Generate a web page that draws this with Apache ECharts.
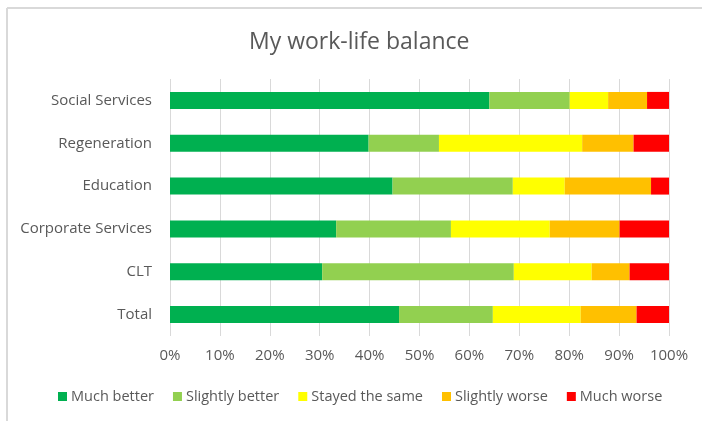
<!DOCTYPE html>
<html>
<head>
<meta charset="utf-8">
<script src="https://cdn.jsdelivr.net/npm/echarts@6/dist/echarts.min.js"></script>
<style>
  html, body { margin: 0; padding: 0; background: #fff; }
  #chart { width: 702px; height: 421px; }
</style>
</head>
<body>
<div id="chart"></div>
<script>
// departments, top to bottom
const departments = ['Social Services', 'Regeneration', 'Education', 'Corporate Services', 'CLT', 'Total'];

const muchBetter = [64.0, 39.8, 44.6, 33.3, 30.5, 45.9];
const slightlyBetter = [16.1, 14.1, 24.1, 23.0, 38.4, 18.8];
const stayedSame = [7.7, 28.7, 10.4, 19.8, 15.6, 17.6];
const slightlyWorse = [7.8, 10.3, 17.3, 14.0, 7.6, 11.2];
const muchWorse = [4.4, 7.1, 3.6, 9.9, 7.9, 6.5];

const seriesNames = ['Much better', 'Slightly better', 'Stayed the same', 'Slightly worse', 'Much worse'];
const seriesColors = ['#00b050', '#92d050', '#ffff00', '#ffc000', '#ff0000'];
const seriesData = [muchBetter, slightlyBetter, stayedSame, slightlyWorse, muchWorse];

const font = '"Open Sans", "Noto Sans", sans-serif';
const textColor = '#595959';

const chart = echarts.init(document.getElementById('chart'));

const option = {
  animation: false,
  textStyle: { fontFamily: font },
  title: {
    text: 'My work-life balance',
    left: 244,
    top: 26,
    textStyle: { fontSize: 23, fontWeight: 'normal', color: textColor, fontFamily: font }
  },
  graphic: [
    { type: 'line', shape: { x1: 7, y1: 8, x2: 702, y2: 8 }, style: { stroke: '#d9d9d9', lineWidth: 2 } },
    { type: 'line', shape: { x1: 7, y1: 8, x2: 7, y2: 421 }, style: { stroke: '#d9d9d9', lineWidth: 2 } }
  ],
  legend: {
    bottom: 12,
    left: 53,
    itemWidth: 9,
    itemHeight: 9,
    itemGap: 19,
    icon: 'rect',
    textStyle: { fontSize: 14.5, color: textColor, fontFamily: font, padding: [0, 0, 0, -1] },
    data: seriesNames
  },
  grid: { left: 170, right: 33, top: 79, bottom: 85 },
  xAxis: {
    type: 'value',
    min: 0,
    max: 100,
    interval: 10,
    axisLine: { show: false },
    axisTick: { show: false },
    splitLine: { lineStyle: { color: '#d9d9d9', width: 1 } },
    axisLabel: { formatter: '{value}%', fontSize: 15, color: textColor, margin: 12 }
  },
  yAxis: {
    type: 'category',
    data: departments,
    inverse: true,
    axisLine: { show: false },
    axisTick: { show: false },
    axisLabel: { fontSize: 15, color: textColor, margin: 18 }
  },
  series: seriesNames.map((name, i) => ({
    name: name,
    type: 'bar',
    stack: 'total',
    barWidth: 17,
    itemStyle: { color: seriesColors[i] },
    data: seriesData[i]
  }))
};

chart.setOption(option);
</script>
</body>
</html>
